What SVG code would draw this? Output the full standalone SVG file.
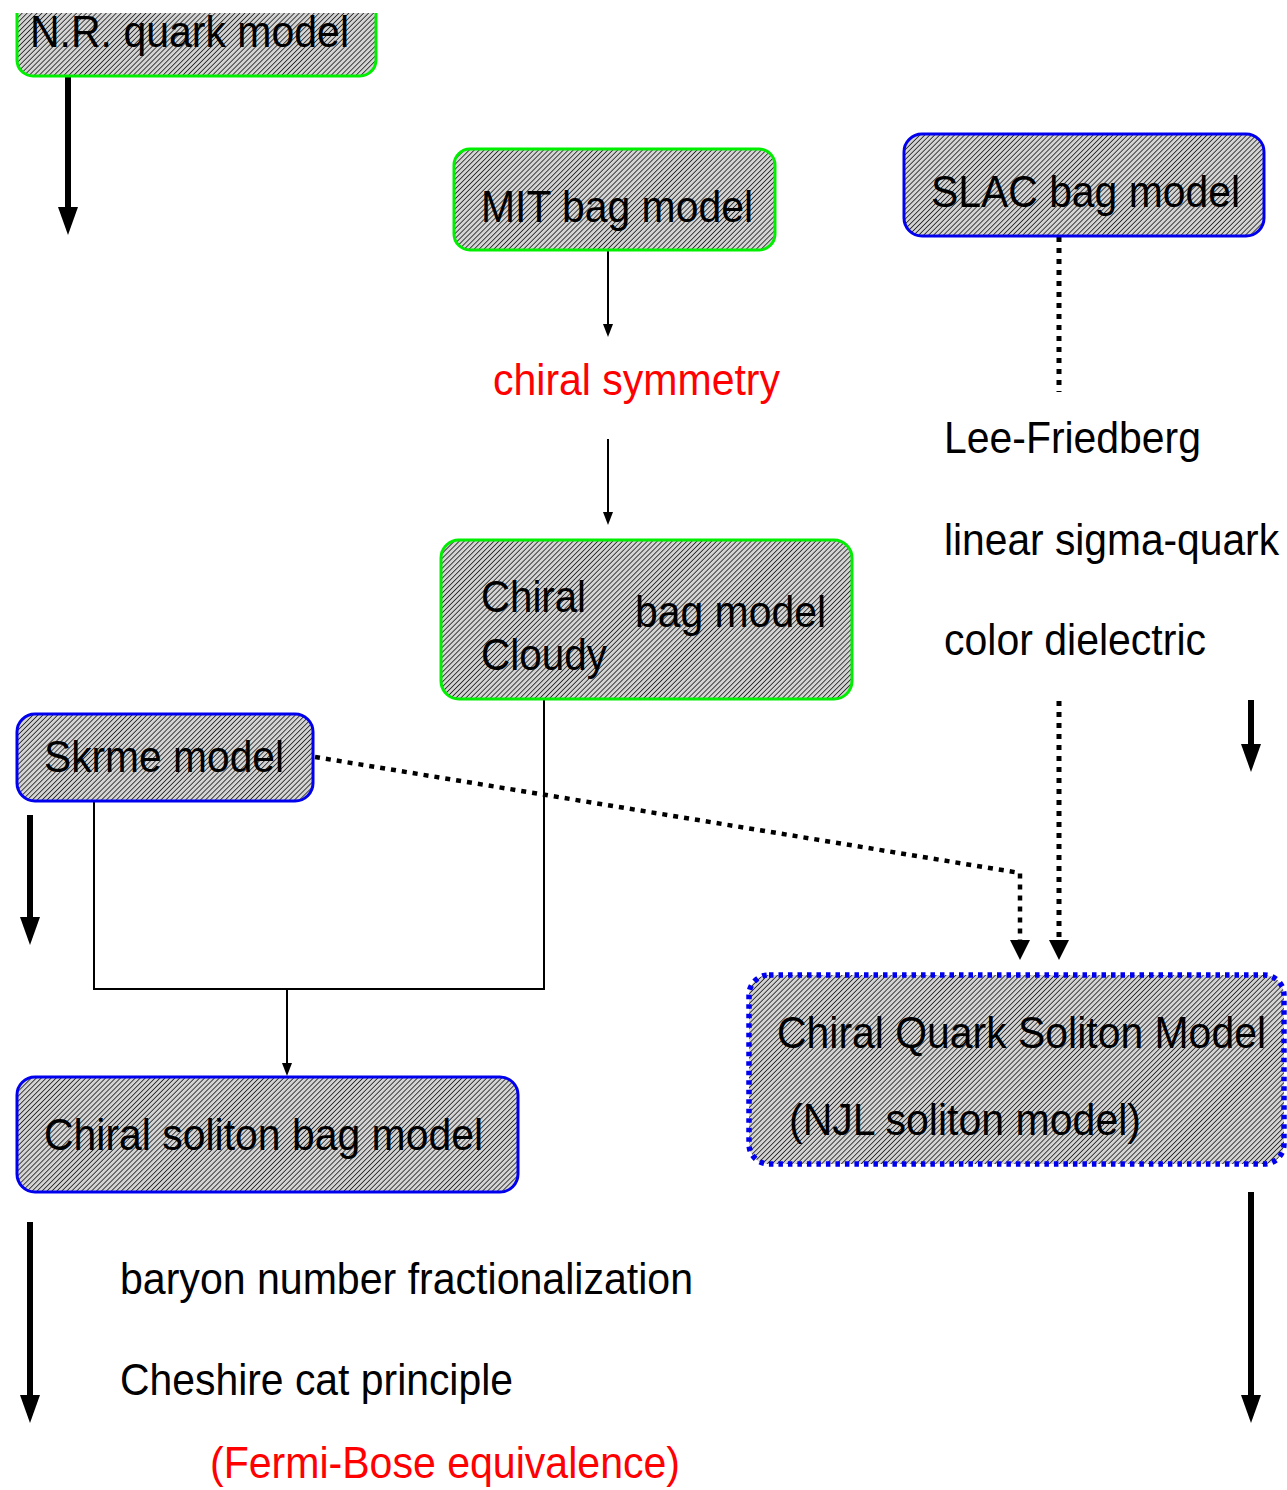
<svg xmlns="http://www.w3.org/2000/svg" width="1287" height="1490" viewBox="0 0 1287 1490">
<style>
text{font-family:"Liberation Sans",Arial,sans-serif;font-size:45px;fill:#000}
.red{fill:#ff0000}
.box{fill:url(#hatch);stroke-width:3}
.g{stroke:#00ee00}
.b{stroke:#0000ee}
.thin{stroke:#000;stroke-width:2;fill:none}
.thick{stroke:#000;stroke-width:6;fill:none}
.dot{stroke:#000;stroke-width:5;stroke-dasharray:5 6;fill:none}
</style>
<defs>
<pattern id="hatch" patternUnits="userSpaceOnUse" width="3.5" height="3.5" patternTransform="rotate(45)">
<rect width="3.5" height="3.5" fill="#d4d4d4"/>
<line x1="0" y1="0" x2="0" y2="3.5" stroke="#1a1a1a" stroke-width="1.6"/>
</pattern>
<clipPath id="topclip"><rect x="0" y="13" width="1287" height="1477"/></clipPath>
</defs>

<g id="connectors">
<line class="thick" x1="68" y1="77" x2="68" y2="208"/>
<path d="M58,207 L78,207 L68,235 Z"/>
<line class="thin" x1="608" y1="251" x2="608" y2="326"/>
<path d="M603,324 L613,324 L608,337 Z"/>
<line class="thin" x1="608" y1="439" x2="608" y2="514"/>
<path d="M603,512 L613,512 L608,525 Z"/>
<line class="dot" x1="1059" y1="237" x2="1059" y2="392"/>
<line class="dot" x1="1059" y1="701" x2="1059" y2="940"/>
<path d="M1049,940 L1069,940 L1059,960 Z"/>
<line class="thick" x1="1251" y1="700" x2="1251" y2="745"/>
<path d="M1241,744 L1261,744 L1251,772 Z"/>
<polyline class="dot" points="315,757 1020,873 1020,940" style="stroke-width:4.5"/>
<path d="M1010,940 L1030,940 L1020,960 Z"/>
<line class="thick" x1="30" y1="815" x2="30" y2="918"/>
<path d="M20,917 L40,917 L30,945 Z"/>
<polyline class="thin" points="94,801 94,989 544,989 544,700"/>
<line class="thin" x1="287" y1="989" x2="287" y2="1064"/>
<path d="M282,1063 L292,1063 L287,1076 Z"/>
<line class="thick" x1="30" y1="1222" x2="30" y2="1396"/>
<path d="M20,1395 L40,1395 L30,1423 Z"/>
<line class="thick" x1="1251" y1="1192" x2="1251" y2="1396"/>
<path d="M1241,1395 L1261,1395 L1251,1423 Z"/>
</g>

<g id="nr" clip-path="url(#topclip)">
<rect class="box g" x="17" y="-30" width="359" height="106" rx="16"/>
<text x="30" y="47" textLength="319" lengthAdjust="spacingAndGlyphs">N.R. quark model</text>
</g>
<g id="mit">
<rect class="box g" x="454" y="149" width="321" height="101" rx="16"/>
<text x="481" y="222" textLength="272" lengthAdjust="spacingAndGlyphs">MIT bag model</text>
</g>
<g id="chiral-symmetry">
<text class="red" x="493" y="395" textLength="287" lengthAdjust="spacingAndGlyphs">chiral symmetry</text>
</g>
<g id="cloudy">
<rect class="box g" x="441" y="540" width="411" height="159" rx="18"/>
<text x="481" y="612" textLength="105" lengthAdjust="spacingAndGlyphs">Chiral</text>
<text x="481" y="670" textLength="126" lengthAdjust="spacingAndGlyphs">Cloudy</text>
<text x="635" y="627" textLength="191" lengthAdjust="spacingAndGlyphs">bag model</text>
</g>
<g id="slac">
<rect class="box b" x="904" y="134" width="360" height="102" rx="18"/>
<text x="931" y="207" textLength="309" lengthAdjust="spacingAndGlyphs">SLAC bag model</text>
</g>
<g id="lee">
<text x="944" y="453" textLength="257" lengthAdjust="spacingAndGlyphs">Lee-Friedberg</text>
<text x="944" y="555" textLength="335" lengthAdjust="spacingAndGlyphs">linear sigma-quark</text>
<text x="944" y="655" textLength="262" lengthAdjust="spacingAndGlyphs">color dielectric</text>
</g>
<g id="skrme">
<rect class="box b" x="17" y="714" width="296" height="87" rx="18"/>
<text x="44" y="772" textLength="240" lengthAdjust="spacingAndGlyphs">Skrme model</text>
</g>
<g id="csbm">
<rect class="box b" x="17" y="1077" width="501" height="115" rx="18"/>
<text x="44" y="1150" textLength="439" lengthAdjust="spacingAndGlyphs">Chiral soliton bag model</text>
</g>
<g id="cqsm">
<rect x="749" y="975" width="535" height="189" rx="20" fill="url(#hatch)" stroke="#0000ee" stroke-width="5.5" stroke-dasharray="4.5 5"/>
<text x="777" y="1048" textLength="489" lengthAdjust="spacingAndGlyphs">Chiral Quark Soliton Model</text>
<text x="789" y="1135" textLength="352" lengthAdjust="spacingAndGlyphs">(NJL soliton model)</text>
</g>
<g id="notes">
<text x="120" y="1294" textLength="573" lengthAdjust="spacingAndGlyphs">baryon number fractionalization</text>
<text x="120" y="1395" textLength="393" lengthAdjust="spacingAndGlyphs">Cheshire cat principle</text>
<text class="red" x="210" y="1478" textLength="470" lengthAdjust="spacingAndGlyphs">(Fermi-Bose equivalence)</text>
</g>
</svg>
